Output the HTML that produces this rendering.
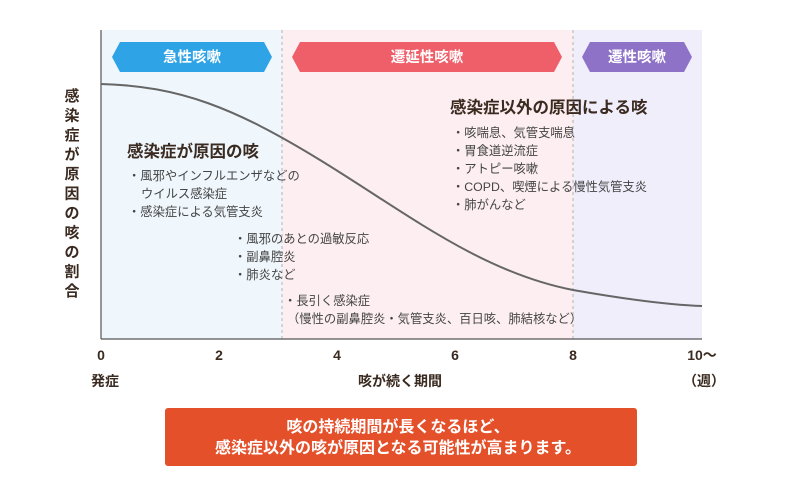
<!DOCTYPE html>
<html><head><meta charset="utf-8"><style>
body{margin:0;background:#fff;}
svg text{font-family:"Liberation Sans","Noto Sans CJK JP",sans-serif;}
</style></head><body>
<svg width="800" height="496" viewBox="0 0 800 496" xmlns="http://www.w3.org/2000/svg">
<rect x="101" y="30" width="181" height="309" fill="#eff7fd"/>
<rect x="282" y="30" width="291" height="309" fill="#fdeff1"/>
<rect x="573" y="30" width="129" height="309" fill="#f1eefc"/>
<line x1="282" y1="30" x2="282" y2="339" stroke="#b5b0b0" stroke-dasharray="3,3"/>
<line x1="573" y1="30" x2="573" y2="339" stroke="#b5b0b0" stroke-dasharray="3,3"/>
<line x1="101" y1="30" x2="101" y2="339" stroke="#555" stroke-width="1.2"/>
<line x1="101" y1="339" x2="702" y2="339" stroke="#555" stroke-width="1.2"/>
<polygon points="112,57 120,42 264,42 272,57 264,72 120,72" fill="#2ea3e6"/>
<polygon points="292,57 300,42 554,42 562,57 554,72 300,72" fill="#ee5f6a"/>
<polygon points="582,57 590,42 684,42 692,57 684,72 590,72" fill="#8e72c8"/>
<g fill="#fff" font-weight="bold" font-size="14.5" text-anchor="middle">
<text x="192" y="62">急性咳嗽</text><text x="427" y="62">遷延性咳嗽</text><text x="637" y="62">遷性咳嗽</text></g>
<path d="M101,84 C180,86 235,108 320,160 S480,272 573,290 C630,300 670,305 702,306" fill="none" stroke="#666" stroke-width="2"/>
<g fill="#3a2a20" font-weight="bold" font-size="16.5">
<text x="127" y="157">感染症が原因の咳</text>
<text x="450" y="113">感染症以外の原因による咳</text></g>
<g fill="#444" font-size="12.3">
<text x="128" y="180">・風邪やインフルエンザなどの</text>
<text x="141" y="198">ウイルス感染症</text>
<text x="128" y="216">・感染症による気管支炎</text>
<text x="234" y="243">・風邪のあとの過敏反応</text>
<text x="234" y="261">・副鼻腔炎</text>
<text x="234" y="279">・肺炎など</text>
<text x="284" y="305">・長引く感染症</text>
<text x="287" y="323">（慢性の副鼻腔炎・気管支炎、百日咳、肺結核など）</text>
<text x="452" y="137">・咳喘息、気管支喘息</text>
<text x="452" y="155">・胃食道逆流症</text>
<text x="452" y="173">・アトピー咳嗽</text>
<text x="452" y="191">・COPD、喫煙による慢性気管支炎</text>
<text x="452" y="209">・肺がんなど</text></g>
<g fill="#3a2a20" font-weight="bold" font-size="14" text-anchor="middle">
<text x="101" y="360">0</text><text x="219" y="360">2</text><text x="337" y="360">4</text>
<text x="455" y="360">6</text><text x="573" y="360">8</text><text x="702" y="360">10〜</text>
<text x="105" y="386">発症</text><text x="400" y="386">咳が続く期間</text><text x="704" y="386">（週）</text>
</g>
<g fill="#3a2a20" font-weight="bold" font-size="15" text-anchor="middle">
<text x="72" y="101">感</text><text x="72" y="120.5">染</text><text x="72" y="140">症</text><text x="72" y="159.5">が</text><text x="72" y="179">原</text><text x="72" y="198.5">因</text><text x="72" y="218">の</text><text x="72" y="237.5">咳</text><text x="72" y="257">の</text><text x="72" y="276.5">割</text><text x="72" y="296">合</text>
</g>
<rect x="165" y="408" width="472" height="58" rx="3" fill="#e4502a"/>
<g fill="#fff" font-weight="bold" font-size="16" text-anchor="middle">
<text x="398" y="432">咳の持続期間が長くなるほど、</text>
<text x="398" y="453">感染症以外の咳が原因となる可能性が高まります。</text></g>
</svg>
</body></html>
